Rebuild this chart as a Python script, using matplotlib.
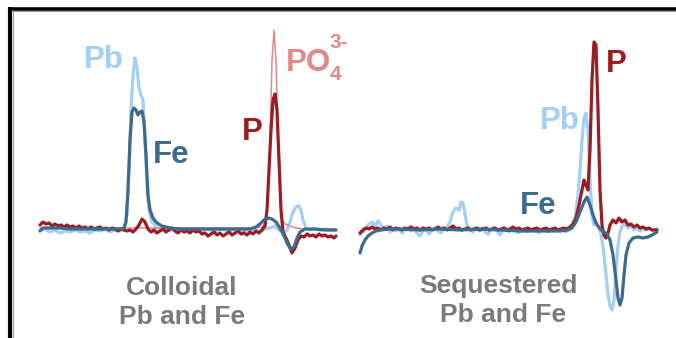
import numpy as np
import matplotlib
matplotlib.use("Agg")
import matplotlib.pyplot as plt
from matplotlib.lines import Line2D

# ---------------- data (channel, intensity) ----------------
# Left panel: "Colloidal Pb and Fe"
left_pb = [(0,-3),(5,-1),(10,-4),(15,-2),(20,-5),(25,-3),(30,-4),(35,-2),(40,-4),(45,-3),(50,-5),(55,-2),
           (60,-3),(65,-1),(70,-4),(75,-2),(80,-3),(84,-1),(87,13),(89,58),(91,118),(93,153),(95,170),(97,160),
           (99,140),(101,133),(103,128),(105,88),(107,43),(109,18),(112,6),(116,1),(120,-1),(125,-2),(130,0),
           (135,-2),(140,-1),(145,-3),(150,-1),(155,-2),(160,-4),(165,-1),(170,-2),(175,-3),(180,-1),(185,-2),
           (190,-3),(195,-1),(200,-2),(205,-3),(210,-1),(215,-2),(220,-3),(225,-1),(230,0),(235,2),(240,-3),
           (244,-5),(247,-2),(250,6),(253,16),(256,21),(259,22),(261,18),(263,8),(266,0),(270,-2),(275,-1),
           (280,-2),(285,-1),(290,-2),(296,-2)]
left_fe = [(0,-3),(3,0),(10,0),(20,0),(30,-1),(40,-1),(50,-1),(60,-1),(70,-1),(80,-1),(84,0),(86,6),(88,38),
           (90,88),(92,116),(94,120),(96,118),(98,113),(100,116),(102,117),(104,106),(106,73),(108,33),(110,18),
           (113,10),(117,5),(122,2),(130,0),(140,-1),(160,-1),(180,-1),(200,-1),(210,-1),(216,1),(220,4),(224,8),
           (228,10),(232,9),(236,6),(240,0),(244,-8),(248,-17),(251,-21),(254,-19),(257,-10),(260,-4),(265,-1),
           (275,-1),(285,-2),(296,-2)]
left_p = [(0,3),(3,6),(6,4),(9,5),(12,2),(15,4),(18,2),(21,3),(24,1),(27,3),(30,1),(33,2),(36,0),(39,2),(42,0),
          (45,1),(48,-1),(51,1),(54,-1),(57,0),(60,1),(63,-1),(66,0),(69,-2),(72,0),(75,-1),(78,-3),(81,-1),(84,-2),
          (87,-3),(90,-2),(93,-4),(96,-1),(99,3),(102,9),(105,6),(108,-1),(111,-4),(114,-2),(117,-5),(120,-3),
          (123,-1),(126,-4),(129,-2),(132,0),(135,-3),(138,-5),(141,-2),(144,-4),(147,-3),(150,-5),(153,-2),
          (156,-4),(159,-3),(162,-6),(165,-5),(168,-8),(171,-6),(174,-4),(177,-7),(180,-5),(183,-8),(186,-6),
          (189,-4),(192,-7),(195,-5),(198,-3),(201,-6),(204,-5),(207,-7),(210,-4),(213,-6),(216,-3),(219,-5),
          (222,-2),(225,2),(227,18),(229,58),(231,98),(233,128),(235,134),(237,118),(239,68),(241,18),(243,-4),
          (246,-10),(249,-17),(252,-25),(255,-20),(258,-12),(261,-8),(264,-9),(267,-6),(270,-8),(273,-7),
          (276,-9),(279,-6),(282,-8),(285,-7),(288,-9),(291,-8),(294,-10),(296,-8)]
left_po4 = [(0,0),(60,0),(110,0),(160,0),(210,0),(222,1),(226,6),(228,28),(230,88),(232,168),(234,198),
            (236,168),(238,88),(240,28),(242,8),(245,4),(250,2),(256,0),(265,-1),(296,-1)]

# Right panel: "Sequestered Pb and Fe"
right_pb = [(0,-5),(3,-2),(6,2),(9,6),(12,8),(15,4),(18,9),(21,5),(24,1),(27,4),(30,-2),(33,2),(36,-1),(39,1),
            (42,-3),(45,0),(48,2),(51,-1),(54,1),(57,-3),(60,-6),(63,-1),(66,1),(69,-4),(72,0),(75,2),(78,-1),
            (81,-3),(84,1),(87,3),(90,8),(93,18),(96,22),(99,20),(101,28),(103,27),(105,16),(107,5),(110,0),
            (113,-2),(116,1),(119,-1),(122,2),(125,-2),(128,-4),(131,0),(134,2),(137,-1),(140,-5),(143,0),(146,1),
            (149,-2),(152,2),(155,0),(158,-3),(161,-1),(164,1),(167,-2),(170,0),(173,2),(176,-1),(179,-3),(182,0),
            (185,1),(188,-2),(191,0),(194,2),(197,-1),(200,1),(203,0),(206,-2),(209,1),(212,5),(215,12),(218,35),
            (220,60),(222,90),(224,112),(226,117),(228,100),(230,50),(232,15),(234,5),(236,8),(238,4),(240,0),
            (242,-10),(244,-25),(246,-45),(248,-65),(250,-76),(252,-80),(254,-70),(256,-40),(258,-15),(260,-2),
            (262,4),(265,6),(268,2),(271,4),(274,0),(277,2),(280,-1),(283,1),(286,0),(289,2),(292,0),(297,1)]
right_p = [(0,-3),(3,0),(6,2),(9,1),(12,3),(15,1),(18,2),(21,0),(24,2),(27,1),(30,3),(33,0),(36,2),(39,1),(42,0),
           (45,2),(48,1),(51,3),(54,1),(57,2),(60,0),(63,2),(66,1),(69,2),(72,0),(75,1),(78,3),(81,1),(84,2),(87,0),
           (90,2),(93,4),(96,1),(99,2),(102,0),(105,1),(108,2),(111,0),(114,1),(117,2),(120,0),(123,1),(126,2),
           (129,0),(132,1),(135,2),(138,0),(141,1),(144,2),(147,0),(150,1),(153,3),(156,1),(159,2),(162,0),(165,1),
           (168,2),(171,0),(174,1),(177,2),(180,0),(183,1),(186,2),(189,0),(192,1),(195,2),(198,0),(201,1),(204,2),
           (207,1),(210,3),(213,6),(216,12),(219,25),(222,40),(224,50),(226,45),(228,40),(230,80),(232,150),
           (234,188),(236,185),(238,120),(240,40),(242,5),(244,-5),(246,-8),(248,-3),(250,5),(253,10),(256,7),
           (259,12),(262,8),(265,10),(268,5),(271,6),(274,3),(277,5),(280,2),(283,3),(286,1),(289,2),(292,0),(297,0)]
right_fe = [(0,-23),(2,-16),(5,-10),(8,-6),(12,-3),(16,-1),(20,0),(30,1),(40,1),(60,0),(80,1),(100,0),(120,1),
            (140,0),(160,-1),(180,-1),(200,-1),(208,0),(212,2),(216,8),(220,18),(224,28),(227,33),(230,25),
            (233,15),(236,7),(240,1),(244,-2),(247,-4),(250,-10),(253,-25),(256,-50),(258,-68),(260,-75),(262,-68),
            (264,-45),(266,-25),(269,-13),(273,-8),(278,-7),(283,-8),(288,-7),(292,-5),(297,-2)]

# labels
left_title = ["Colloidal", "Pb and Fe"]
right_title = ["Sequestered", "Pb and Fe"]

# ---------------- style ----------------
C_PB = "#a3cff5"
C_FE = "#3e6b8d"
C_P = "#9b1d22"
C_PO4 = "#e08a8a"
C_GRAY = "#7a7a7a"
FONT = "Liberation Sans"

W, H = 676, 338
fig = plt.figure(figsize=(W / 100, H / 100), dpi=100)
fig.patch.set_facecolor("white")

axL = fig.add_axes([40 / W, 0, 296 / W, 1])
axR = fig.add_axes([360 / W, 0, 297 / W, 1])
axL.set_xlim(0, 296); axL.set_ylim(-110, 228)
axR.set_xlim(0, 297); axR.set_ylim(-108, 230)
for ax in (axL, axR):
    ax.axis("off")


def draw(ax, pts, color, lw, z):
    a = np.array(pts, dtype=float)
    ax.plot(a[:, 0], a[:, 1], color=color, lw=lw, zorder=z, clip_on=False,
            solid_joinstyle="round", solid_capstyle="round")


draw(axL, left_pb, C_PB, 2.3, 1)
draw(axL, left_po4, C_PO4, 1.1, 2)
draw(axL, left_p, C_P, 2.3, 3)
draw(axL, left_fe, C_FE, 2.3, 4)

draw(axR, right_pb, C_PB, 2.3, 1)
draw(axR, right_p, C_P, 2.3, 2)
draw(axR, right_fe, C_FE, 2.3, 3)

big = dict(fontfamily=FONT, fontweight="bold", fontsize=22.5, ha="center", va="center")
axL.text(64, 168, "Pb", color=C_PB, **big)
axL.text(131, 73, "Fe", color=C_FE, **big)
axL.text(212, 96, "P", color=C_P, **big)
axL.text(246, 165, "PO", color=C_PO4, fontfamily=FONT, fontweight="bold", fontsize=22.5,
         ha="left", va="center")
axL.text(290, 185, "3-", color=C_PO4, fontfamily=FONT, fontweight="bold", fontsize=15,
         ha="left", va="center")
axL.text(290, 153, "4", color=C_PO4, fontfamily=FONT, fontweight="bold", fontsize=15,
         ha="left", va="center")

axR.text(256, 166, "P", color=C_P, **big)
axR.text(200, 109, "Pb", color=C_PB, **big)
axR.text(178, 24, "Fe", color=C_FE, **big)

small = dict(fontfamily=FONT, fontweight="bold", fontsize=19, ha="center", va="center", color=C_GRAY)
axL.text(142, -60, left_title[0], **small)
axL.text(142, -89, left_title[1], **small)
axR.text(138, -56, right_title[0], **small)
axR.text(143, -85, right_title[1], **small)

# frame lines (top and left)
fig.add_artist(Line2D([8 / W, 1], [1 - 8.5 / H, 1 - 8.5 / H], color="black", lw=2.6,
                      transform=fig.transFigure, solid_capstyle="butt"))
fig.add_artist(Line2D([10 / W, 10 / W], [0, 1 - 7 / H], color="black", lw=3.0,
                      transform=fig.transFigure, solid_capstyle="butt"))
fig.add_artist(Line2D([12.5 / W, 1], [1 - 10.8 / H, 1 - 10.8 / H], color="#9a9a9a", lw=0.8,
                      transform=fig.transFigure))
fig.add_artist(Line2D([12.8 / W, 12.8 / W], [0, 1 - 10.8 / H], color="#9a9a9a", lw=0.8,
                      transform=fig.transFigure))

fig.savefig("out.png", dpi=100, facecolor="white")
